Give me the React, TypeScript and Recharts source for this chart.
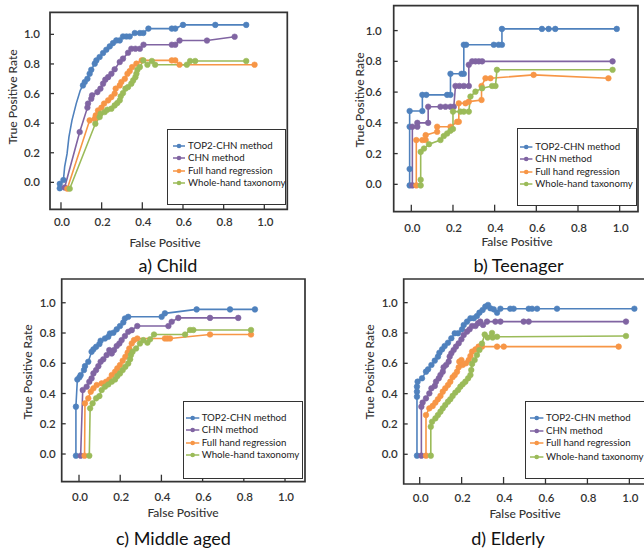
import React from 'react';
import { LineChart, Line, XAxis, YAxis, ReferenceArea } from 'recharts';

// ---------- shared labels ----------
const seriesNames = ['TOP2-CHN method', 'CHN method', 'Full hand regression', 'Whole-hand taxonomy'];
const seriesColors = ['#4F81BD', '#8064A2', '#F79646', '#9BBB59'];
const axisTicks = [0, 0.2, 0.4, 0.6, 0.8, 1.0];
const panelTitles = ['a) Child', 'b) Teenager', 'c) Middle aged', 'd) Elderly'];
const xAxisTitle = 'False Positive';
const yAxisTitle = 'True Positive Rate';

// ---------- a) Child ----------
const childTop2 = [[-0.006, -0.04], [-0.006, -0.01], [0.012, 0.016], [0.108, 0.655], [0.117, 0.678], [0.13, 0.7], [0.141, 0.734], [0.149, 0.761], [0.166, 0.802], [0.174, 0.824], [0.19, 0.847], [0.207, 0.874], [0.223, 0.896], [0.24, 0.919], [0.256, 0.941], [0.272, 0.959], [0.289, 0.959], [0.305, 0.986], [0.322, 0.986], [0.338, 0.986], [0.363, 1.009], [0.388, 1.009], [0.405, 1.009], [0.43, 1.039], [0.545, 1.039], [0.562, 1.039], [0.6, 1.064], [0.759, 1.064], [0.911, 1.064]];
const childTop2Curve = [[0.018, 0.104], [0.03, 0.194], [0.039, 0.306], [0.054, 0.419], [0.075, 0.532], [0.095, 0.622]];
const childChn = [[0.018, -0.035], [0.092, 0.34], [0.13, 0.505], [0.133, 0.532], [0.149, 0.565], [0.153, 0.588], [0.179, 0.61], [0.194, 0.633], [0.207, 0.667], [0.218, 0.694], [0.232, 0.711], [0.248, 0.734], [0.264, 0.764], [0.289, 0.813], [0.305, 0.836], [0.33, 0.876], [0.346, 0.903], [0.366, 0.903], [0.388, 0.903], [0.406, 0.93], [0.545, 0.93], [0.562, 0.93], [0.583, 0.958], [0.718, 0.958], [0.854, 0.984]];
const childFull = [[0.031, -0.043], [0.141, 0.419], [0.166, 0.43], [0.171, 0.453], [0.182, 0.486], [0.199, 0.505], [0.212, 0.532], [0.232, 0.554], [0.248, 0.576], [0.264, 0.6], [0.269, 0.633], [0.289, 0.655], [0.297, 0.678], [0.314, 0.7], [0.327, 0.734], [0.338, 0.752], [0.35, 0.779], [0.371, 0.802], [0.397, 0.824], [0.545, 0.824], [0.562, 0.824], [0.583, 0.795], [0.952, 0.795]];
const childWhole = [[0.043, -0.043], [0.169, 0.396], [0.19, 0.441], [0.195, 0.464], [0.215, 0.475], [0.228, 0.491], [0.248, 0.498], [0.264, 0.52], [0.277, 0.536], [0.289, 0.554], [0.294, 0.581], [0.305, 0.603], [0.317, 0.633], [0.33, 0.644], [0.346, 0.667], [0.355, 0.689], [0.366, 0.711], [0.371, 0.734], [0.376, 0.761], [0.388, 0.779], [0.405, 0.824], [0.425, 0.795], [0.447, 0.82], [0.463, 0.795], [0.619, 0.795], [0.635, 0.82], [0.66, 0.82], [0.911, 0.82]];

// ---------- b) Teenager ----------
const teenTop2 = [[-0.008, -0.007], [-0.008, 0.1], [-0.008, 0.375], [-0.008, 0.477], [0.053, 0.477], [0.053, 0.582], [0.072, 0.582], [0.172, 0.582], [0.188, 0.582], [0.188, 0.719], [0.241, 0.719], [0.252, 0.719], [0.252, 0.908], [0.263, 0.908], [0.396, 0.908], [0.419, 0.908], [0.435, 0.908], [0.435, 1.011], [0.627, 1.011], [0.659, 1.011], [0.691, 1.011], [0.986, 1.011]];
const teenChn = [[0.005, -0.007], [0.005, 0.375], [0.029, 0.375], [0.029, 0.4], [0.081, 0.4], [0.081, 0.505], [0.14, 0.505], [0.164, 0.505], [0.188, 0.505], [0.204, 0.505], [0.212, 0.64], [0.231, 0.64], [0.252, 0.64], [0.276, 0.64], [0.276, 0.778], [0.292, 0.8], [0.308, 0.8], [0.324, 0.8], [0.34, 0.8], [0.966, 0.8]];
const teenFull = [[0.024, -0.007], [0.024, 0.288], [0.053, 0.288], [0.069, 0.288], [0.069, 0.32], [0.124, 0.342], [0.124, 0.375], [0.188, 0.375], [0.22, 0.407], [0.228, 0.407], [0.228, 0.527], [0.26, 0.527], [0.276, 0.538], [0.337, 0.549], [0.337, 0.64], [0.356, 0.69], [0.38, 0.69], [0.587, 0.712], [0.946, 0.69]];
const teenWhole = [[0.045, -0.007], [0.045, 0.03], [0.045, 0.211], [0.061, 0.233], [0.085, 0.261], [0.14, 0.288], [0.156, 0.314], [0.172, 0.331], [0.188, 0.349], [0.2, 0.36], [0.2, 0.473], [0.236, 0.473], [0.252, 0.473], [0.276, 0.473], [0.284, 0.571], [0.308, 0.603], [0.34, 0.625], [0.388, 0.64], [0.404, 0.64], [0.411, 0.745], [0.966, 0.745]];

// ---------- c) Middle aged ----------
const midTop2 = [[-0.015, -0.011], [-0.015, 0.313], [-0.008, 0.493], [0.002, 0.507], [0.008, 0.522], [0.024, 0.555], [0.029, 0.581], [0.045, 0.61], [0.061, 0.676], [0.07, 0.692], [0.083, 0.709], [0.099, 0.727], [0.105, 0.749], [0.126, 0.764], [0.142, 0.775], [0.15, 0.797], [0.167, 0.802], [0.183, 0.824], [0.199, 0.846], [0.215, 0.87], [0.223, 0.896], [0.239, 0.907], [0.401, 0.907], [0.417, 0.93], [0.571, 0.956], [0.733, 0.956], [0.854, 0.956]];
const midChn = [[0.008, -0.011], [0.018, 0.423], [0.037, 0.445], [0.05, 0.478], [0.061, 0.5], [0.07, 0.533], [0.083, 0.555], [0.094, 0.581], [0.105, 0.61], [0.118, 0.626], [0.134, 0.654], [0.147, 0.687], [0.159, 0.665], [0.17, 0.687], [0.183, 0.714], [0.196, 0.731], [0.207, 0.753], [0.223, 0.78], [0.239, 0.808], [0.256, 0.819], [0.283, 0.846], [0.434, 0.846], [0.45, 0.874], [0.482, 0.9], [0.636, 0.9], [0.773, 0.9]];
const midFull = [[0.027, -0.011], [0.029, 0.335], [0.045, 0.368], [0.057, 0.412], [0.07, 0.434], [0.086, 0.456], [0.11, 0.467], [0.131, 0.478], [0.147, 0.493], [0.159, 0.522], [0.175, 0.544], [0.186, 0.566], [0.199, 0.588], [0.212, 0.617], [0.225, 0.643], [0.236, 0.67], [0.244, 0.698], [0.256, 0.731], [0.267, 0.753], [0.283, 0.764], [0.417, 0.764], [0.429, 0.764], [0.442, 0.764], [0.636, 0.79], [0.835, 0.79]];
const midWhole = [[0.05, -0.011], [0.054, 0.302], [0.066, 0.335], [0.083, 0.368], [0.099, 0.383], [0.11, 0.423], [0.126, 0.445], [0.142, 0.46], [0.159, 0.478], [0.175, 0.493], [0.186, 0.515], [0.199, 0.533], [0.212, 0.555], [0.225, 0.577], [0.239, 0.599], [0.248, 0.626], [0.252, 0.654], [0.26, 0.676], [0.277, 0.698], [0.296, 0.731], [0.312, 0.753], [0.332, 0.736], [0.345, 0.758], [0.364, 0.79], [0.515, 0.79], [0.539, 0.82], [0.555, 0.82], [0.835, 0.82]];

// ---------- d) Elderly ----------
const oldTop2 = [[-0.013, -0.009], [-0.013, 0.38], [-0.013, 0.413], [-0.013, 0.446], [-0.01, 0.479], [0.011, 0.501], [0.03, 0.545], [0.04, 0.56], [0.056, 0.589], [0.072, 0.618], [0.087, 0.644], [0.094, 0.67], [0.107, 0.692], [0.119, 0.714], [0.135, 0.736], [0.151, 0.765], [0.167, 0.798], [0.183, 0.798], [0.202, 0.824], [0.21, 0.853], [0.226, 0.875], [0.242, 0.897], [0.258, 0.897], [0.273, 0.912], [0.285, 0.934], [0.3, 0.952], [0.313, 0.974], [0.326, 0.985], [0.337, 0.963], [0.353, 0.956], [0.369, 0.934], [0.385, 0.96], [0.432, 0.96], [0.448, 0.96], [0.52, 0.96], [0.536, 0.96], [0.56, 0.96], [0.655, 0.96], [1.024, 0.96]];
const oldChn = [[0.008, -0.009], [0.008, 0.314], [0.014, 0.341], [0.03, 0.369], [0.046, 0.402], [0.056, 0.435], [0.072, 0.451], [0.078, 0.479], [0.091, 0.501], [0.099, 0.523], [0.11, 0.545], [0.114, 0.574], [0.126, 0.589], [0.138, 0.611], [0.143, 0.644], [0.151, 0.666], [0.162, 0.688], [0.173, 0.71], [0.186, 0.732], [0.199, 0.758], [0.21, 0.787], [0.226, 0.809], [0.238, 0.824], [0.25, 0.846], [0.266, 0.846], [0.278, 0.864], [0.289, 0.875], [0.302, 0.853], [0.321, 0.875], [0.361, 0.875], [0.385, 0.875], [0.496, 0.875], [0.52, 0.875], [0.984, 0.875]];
const oldFull = [[0.03, -0.009], [0.03, 0.259], [0.046, 0.303], [0.062, 0.319], [0.075, 0.341], [0.087, 0.363], [0.099, 0.385], [0.11, 0.413], [0.122, 0.435], [0.135, 0.457], [0.146, 0.479], [0.157, 0.508], [0.167, 0.523], [0.178, 0.545], [0.186, 0.574], [0.189, 0.611], [0.199, 0.622], [0.205, 0.589], [0.221, 0.6], [0.234, 0.622], [0.242, 0.648], [0.25, 0.677], [0.266, 0.692], [0.281, 0.71], [0.297, 0.71], [0.369, 0.71], [0.401, 0.71], [0.949, 0.71]];
const oldWhole = [[0.053, -0.009], [0.053, 0.182], [0.059, 0.215], [0.075, 0.237], [0.087, 0.259], [0.099, 0.281], [0.11, 0.303], [0.122, 0.325], [0.135, 0.347], [0.146, 0.363], [0.157, 0.385], [0.17, 0.407], [0.183, 0.424], [0.194, 0.446], [0.205, 0.462], [0.218, 0.479], [0.231, 0.501], [0.242, 0.523], [0.246, 0.556], [0.25, 0.596], [0.262, 0.622], [0.273, 0.655], [0.285, 0.688], [0.297, 0.73], [0.31, 0.79], [0.324, 0.77], [0.345, 0.8], [0.348, 0.77], [0.369, 0.775], [0.984, 0.78]];

// ---------- layout (positions / styles only) ----------
type Pt = { x: number; y: number };
const toPts = (a: number[][]): Pt[] => a.map(([x, y]) => ({ x, y }));

const PAGE_W = 644;
const PAGE_H = 550;
const AXIS_SPACE = 30;
const FONT = 'Lato, "Liberation Sans", Arial, sans-serif';
const AXIS_COLOR = '#333333';
const TEXT_COLOR = '#333333';

interface Panel {
  series: number[][][];
  curve?: number[][];
  chartW: number;
  frame: { left: number; top: number; right: number; bottom: number };
  xDomain: [number, number];
  yDomain: [number, number];
  xLabelDy: number;
  yLabelGap: number;
  yTitle: [number, number];
  xTitle: [number, number];
  caption: [number, number];
  legend: { left: number; top: number; right: number; bottom: number; rows: number[]; sx0: number; sx1: number; tx: number };
}

const panels: Panel[] = [
  {
    series: [childTop2, childChn, childFull, childWhole],
    curve: childTop2Curve,
    chartW: PAGE_W,
    frame: { left: 50, top: 12.3, right: 287.3, bottom: 209.3 },
    xDomain: [-0.054, 1.113],
    yDomain: [-0.182, 1.149],
    xLabelDy: 17,
    yLabelGap: 10,
    yTitle: [13, 97],
    xTitle: [165, 243],
    caption: [168, 265],
    legend: { left: 167.3, top: 129.3, right: 285.7, bottom: 205, rows: [146, 158.3, 171, 182.7], sx0: 173, sx1: 185, tx: 188 },
  },
  {
    series: [teenTop2, teenChn, teenFull, teenWhole],
    chartW: PAGE_W,
    frame: { left: 393.7, top: 5.7, right: 638, bottom: 211.7 },
    xDomain: [-0.0845, 1.088],
    yDomain: [-0.178, 1.162],
    xLabelDy: 20,
    yLabelGap: 12,
    yTitle: [360, 100],
    xTitle: [517, 242],
    caption: [518.5, 265],
    legend: { left: 517, top: 128.3, right: 637, bottom: 206, rows: [146.7, 159.3, 172.3, 184.3], sx0: 520.3, sx1: 532.7, tx: 535.3 },
  },
  {
    series: [midTop2, midChn, midFull, midWhole],
    chartW: PAGE_W,
    frame: { left: 61.7, top: 279, right: 305, bottom: 481.7 },
    xDomain: [-0.084, 1.097],
    yDomain: [-0.183, 1.157],
    xLabelDy: 19,
    yLabelGap: 6,
    yTitle: [28, 372],
    xTitle: [183, 513],
    caption: [173.5, 538],
    legend: { left: 182.7, top: 401, right: 302.7, bottom: 479, rows: [417.7, 430, 442.7, 455], sx0: 186, sx1: 199.3, tx: 201.7 },
  },
  {
    series: [oldTop2, oldChn, oldFull, oldWhole],
    chartW: 660,
    frame: { left: 403.7, top: 279, right: 647.8, bottom: 484 },
    xDomain: [-0.0763, 1.088],
    yDomain: [-0.196, 1.156],
    xLabelDy: 18,
    yLabelGap: 6,
    yTitle: [370, 372],
    xTitle: [525, 514],
    caption: [508, 538],
    legend: { left: 525.3, top: 401, right: 662, bottom: 479, rows: [418.3, 430.7, 443.3, 456.7], sx0: 530.3, sx1: 543.7, tx: 546 },
  },
];

const makeXTick = (bottom: number, dy: number) => (props: any) => {
  const { x, payload } = props;
  return (
    <g>
      <line x1={x} x2={x} y1={bottom} y2={bottom - 7} stroke={AXIS_COLOR} strokeWidth={1.3} />
      <text x={x + 1} y={bottom + dy} textAnchor="middle" fontSize={11.5} fontWeight={600} fontFamily={FONT} fill={TEXT_COLOR}>
        {Number(payload.value).toFixed(1)}
      </text>
    </g>
  );
};

const makeYTick = (left: number, gap: number) => (props: any) => {
  const { y, payload } = props;
  return (
    <g>
      <line x1={left} x2={left + 4} y1={y} y2={y} stroke={AXIS_COLOR} strokeWidth={1.3} />
      <text x={left - gap} y={y + 4} textAnchor="end" fontSize={11.5} fontWeight={600} fontFamily={FONT} fill={TEXT_COLOR}>
        {Number(payload.value).toFixed(1)}
      </text>
    </g>
  );
};

const PanelChart: React.FC<{ p: Panel }> = ({ p }) => {
  const f = p.frame;
  const marks = p.series.map(toPts);
  const curveLine = p.curve
    ? [...marks[0], ...toPts(p.curve)].sort((a, b) => a.x - b.x)
    : null;
  return (
    <div style={{ position: 'absolute', left: 0, top: 0 }}>
      <LineChart
        width={p.chartW}
        height={PAGE_H}
        margin={{
          left: f.left - AXIS_SPACE,
          top: f.top,
          right: p.chartW - f.right,
          bottom: PAGE_H - f.bottom - AXIS_SPACE,
        }}
      >
        <XAxis
          type="number"
          dataKey="x"
          domain={p.xDomain}
          ticks={axisTicks}
          interval={0}
          allowDataOverflow
          height={AXIS_SPACE}
          axisLine={false}
          tickLine={false}
          tick={makeXTick(f.bottom, p.xLabelDy)}
        />
        <YAxis
          type="number"
          dataKey="y"
          domain={p.yDomain}
          ticks={axisTicks}
          interval={0}
          allowDataOverflow
          width={AXIS_SPACE}
          axisLine={false}
          tickLine={false}
          tick={makeYTick(f.left, p.yLabelGap)}
        />
        <ReferenceArea
          x1={p.xDomain[0]}
          x2={p.xDomain[1]}
          y1={p.yDomain[0]}
          y2={p.yDomain[1]}
          fill="none"
          fillOpacity={0}
          stroke={AXIS_COLOR}
          strokeWidth={1.7}
          ifOverflow="visible"
        />
        {curveLine && (
          <Line
            data={curveLine}
            dataKey="y"
            type="linear"
            stroke={seriesColors[0]}
            strokeWidth={1.6}
            dot={false}
            activeDot={false}
            legendType="none"
            isAnimationActive={false}
          />
        )}
        {marks.map((d, i) => (
          <Line
            key={seriesNames[i]}
            name={seriesNames[i]}
            data={d}
            dataKey="y"
            type="linear"
            stroke={i === 0 && curveLine ? 'none' : seriesColors[i]}
            strokeWidth={1.6}
            dot={{ r: 2.8, fill: seriesColors[i], stroke: seriesColors[i], strokeWidth: 0.6 }}
            activeDot={false}
            isAnimationActive={false}
          />
        ))}
      </LineChart>
    </div>
  );
};

const PanelText: React.FC<{ p: Panel; title: string }> = ({ p, title }) => {
  const L = p.legend;
  return (
    <>
      <div
        style={{
          position: 'absolute',
          left: p.yTitle[0],
          top: p.yTitle[1],
          transform: 'translate(-50%, -50%) rotate(-90deg)',
          fontFamily: FONT,
          fontSize: 12,
          fontWeight: 500,
          color: TEXT_COLOR,
          whiteSpace: 'nowrap',
          lineHeight: 1,
        }}
      >
        {yAxisTitle}
      </div>
      <div
        style={{
          position: 'absolute',
          left: p.xTitle[0],
          top: p.xTitle[1],
          transform: 'translate(-50%, -50%)',
          fontFamily: FONT,
          fontSize: 12,
          fontWeight: 500,
          color: TEXT_COLOR,
          whiteSpace: 'nowrap',
          lineHeight: 1,
        }}
      >
        {xAxisTitle}
      </div>
      <div
        style={{
          position: 'absolute',
          left: p.caption[0],
          top: p.caption[1],
          transform: 'translate(-50%, -50%)',
          fontFamily: FONT,
          fontSize: 18,
          color: '#111',
          whiteSpace: 'nowrap',
          lineHeight: 1,
        }}
      >
        {title}
      </div>
      <div
        style={{
          position: 'absolute',
          left: L.left,
          top: L.top,
          width: L.right - L.left,
          height: L.bottom - L.top,
          border: `1.3px solid ${AXIS_COLOR}`,
          background: '#fff',
          boxSizing: 'border-box',
        }}
      />
      {seriesNames.map((name, i) => (
        <React.Fragment key={name}>
          <svg
            style={{ position: 'absolute', left: L.sx0, top: L.rows[i] - 4, overflow: 'visible' }}
            width={L.sx1 - L.sx0}
            height={8}
          >
            <line x1={0} x2={L.sx1 - L.sx0} y1={4} y2={4} stroke={seriesColors[i]} strokeWidth={1.5} />
            <circle cx={(L.sx1 - L.sx0) / 2} cy={4} r={2.3} fill={seriesColors[i]} />
          </svg>
          <div
            style={{
              position: 'absolute',
              left: L.tx,
              top: L.rows[i],
              transform: 'translateY(-50%)',
              fontFamily: FONT,
              fontSize: 9.7,
              color: '#222',
              whiteSpace: 'nowrap',
              lineHeight: 1,
            }}
          >
            {name}
          </div>
        </React.Fragment>
      ))}
    </>
  );
};

export default function App() {
  return (
    <div
      style={{
        position: 'fixed',
        left: 0,
        top: 0,
        width: PAGE_W,
        height: PAGE_H,
        overflow: 'hidden',
        background: '#fff',
      }}
    >
      {panels.map((p, i) => (
        <PanelChart key={panelTitles[i]} p={p} />
      ))}
      {panels.map((p, i) => (
        <PanelText key={panelTitles[i]} p={p} title={panelTitles[i]} />
      ))}
    </div>
  );
}
